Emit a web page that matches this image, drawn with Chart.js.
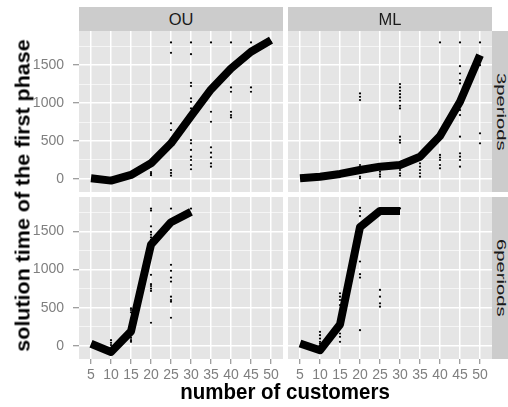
<!DOCTYPE html>
<html><head><meta charset="utf-8">
<script src="https://cdn.jsdelivr.net/npm/chart.js@4/dist/chart.umd.min.js"></script>
<style>
html,body{margin:0;padding:0;background:#fff;}
#wrap{position:relative;width:508px;height:407px;overflow:hidden;font-family:"Liberation Sans",Arial,sans-serif;}
canvas{position:absolute;left:0;top:0;}
.strip{position:absolute;background:#CCCCCC;color:#1A1A1A;display:flex;align-items:center;justify-content:center;font-size:16.5px;white-space:nowrap;overflow:hidden;}
.rs span{display:block;font-size:13.5px;line-height:13.5px;transform:rotate(90deg) scaleX(1.5);}
#xt{position:absolute;left:85px;width:400px;top:381px;height:20px;text-align:center;font-weight:bold;font-size:20.5px;line-height:20.5px;transform:scaleY(1.1);color:#000;white-space:nowrap;}
#yt{position:absolute;left:-177px;width:400px;top:186px;height:19px;text-align:center;font-weight:bold;font-size:19.5px;line-height:19.5px;transform:rotate(-90deg) scaleX(1.1);color:#000;white-space:nowrap;}
</style></head>
<body><div id="wrap">
<canvas id="c1" width="508" height="407"></canvas>
<canvas id="c2" width="508" height="407"></canvas>
<canvas id="c3" width="508" height="407"></canvas>
<canvas id="c4" width="508" height="407"></canvas>
<div class="strip" style="left:79px;top:7px;width:204px;height:24px;">OU</div>
<div class="strip" style="left:288px;top:7px;width:204px;height:24px;">ML</div>
<div class="strip rs" style="left:492px;top:31px;width:17px;height:161px;"><span>3periods</span></div>
<div class="strip rs" style="left:492px;top:197px;width:17px;height:162px;"><span>6periods</span></div>
<div id="xt">number of customers</div>
<div id="yt">solution time of the first phase</div>
</div>
<script>
// categories (number of customers)
const xCats = [5, 10, 15, 20, 25, 30, 35, 40, 45, 50];
const yMajor = [0, 500, 1000, 1500];
const yMinor = [250, 750, 1250, 1750];

// mean lines
const ou3Mean = [9, -22, 53, 206, 470, 829, 1180, 1456, 1676, 1830];
const ml3Mean = [9, 30, 66, 118, 162, 184, 293, 566, 1017, 1632];
const ou6Mean = [27, -80, 190, 1325, 1620, 1755, null, null, null, null];
const ml6Mean = [32, -57, 280, 1555, 1768, 1768, null, null, null, null];

// individual runs [customers, time]
const ou3Pts = [[20,50],[20,70],[20,90],[25,1800],[25,1662],[25,733],[25,645],[25,118],[25,80],[25,43],
  [30,1800],[30,1645],[30,1267],[30,1224],[30,1062],[30,1017],[30,930],[30,513],[30,470],[30,382],[30,293],[30,250],[30,184],[30,128],
  [35,1800],[35,886],[35,754],[35,417],[35,346],[35,285],[35,206],[35,162],
  [40,1800],[40,1206],[40,1149],[40,886],[40,842],[40,811],[45,1800],[45,1206],[45,1149],[50,1800]];
const ml3Pts = [[20,1127],[20,1083],[20,1039],[20,184],[20,30],[20,9],[25,96],[25,60],[25,30],
  [30,1250],[30,1206],[30,1162],[30,1118],[30,1075],[30,1031],[30,965],[30,930],[30,557],[30,513],[30,478],[30,118],[30,75],[30,43],
  [35,206],[35,162],[35,118],[35,75],[35,30],[40,1800],[40,316],[40,283],[40,250],[40,184],[40,140],
  [45,1800],[45,1487],[45,1390],[45,1303],[45,1259],[45,908],[45,842],[45,557],[45,338],[45,294],[45,250],[45,162],
  [50,1800],[50,1500],[50,601],[50,470]];
const ou6Pts = [[10,75],[10,40],[10,10],[15,492],[15,470],[15,439],[15,105],[15,75],[15,53],
  [20,1799],[20,1772],[20,1566],[20,1492],[20,1456],[20,1421],[20,1390],[20,930],[20,808],[20,783],[20,750],[20,720],[20,303],
  [25,1799],[25,1062],[25,983],[25,895],[25,842],[25,645],[25,601],[25,579],[25,368],[30,1799]];
const ml6Pts = [[10,184],[10,140],[10,96],[10,53],[10,30],[15,689],[15,645],[15,601],[15,535],[15,162],[15,118],[15,53],
  [20,1808],[20,1766],[20,1700],[20,1590],[20,1105],[20,939],[20,895],[20,206],[25,733],[25,645],[25,557],[25,513],[30,1800]];

const FONT = '"Liberation Sans", Arial, sans-serif';
const XH = 28;
const bgPlugin = {
  id: 'panelBg',
  beforeDraw(chart) {
    const a = chart.chartArea, ctx = chart.ctx;
    ctx.save();
    ctx.fillStyle = '#E5E5E5';
    ctx.fillRect(a.left, a.top, a.right - a.left, a.bottom - a.top);
    ctx.restore();
  }
};

function panel(id, mean, pts, cfg) {
  const {left, right, top, bottom, showX, showY} = cfg;
  new Chart(document.getElementById(id), {
    type: 'line',
    data: { datasets: [
      { data: xCats.map((x, i) => ({x: x, y: mean[i]})).filter(d => d.y !== null),
        borderColor: '#000', borderWidth: 8, pointRadius: 0, borderJoinStyle: 'round', borderCapStyle: 'butt',
        tension: 0, fill: false, clip: 0 },
      { data: pts.map(p => ({x: p[0], y: p[1]})), showLine: false, pointRadius: 1.1,
        pointBackgroundColor: '#000', pointBorderWidth: 0, clip: 0 }
    ]},
    options: {
      responsive: false, animation: false, events: [],
      plugins: { legend: {display: false}, tooltip: {enabled: false} },
      layout: { padding: { left: showY ? 0 : left, right: 508 - right, top: top,
                           bottom: showX ? 407 - bottom - XH : 407 - bottom } },
      scales: {
        x: { type: 'linear', min: 2, max: 53,
             afterBuildTicks: s => { s.ticks = xCats.map(v => ({value: v})); },
             afterFit: s => { s.height = showX ? XH : 0; },
             border: {display: false},
             grid: { color: '#FFFFFF', lineWidth: 1.5, drawTicks: showX, tickLength: 5, tickColor: '#7F7F7F', tickWidth: 1 },
             ticks: { display: showX, color: '#7F7F7F', font: {family: FONT, size: 14}, padding: 3,
                      maxRotation: 0, autoSkip: false } },
        y: { type: 'linear', min: -172, max: 1950,
             afterBuildTicks: s => { s.ticks = yMajor.concat(yMinor).sort((a, b) => a - b).map(v => ({value: v})); },
             afterFit: s => { s.width = showY ? left : 0; },
             border: {display: false},
             grid: { color: '#FFFFFF',
                     lineWidth: c => (c.tick && yMajor.includes(c.tick.value)) ? 1.5 : 0.6,
                     drawTicks: showY, tickLength: 6, tickWidth: 1,
                     tickColor: c => (c.tick && yMajor.includes(c.tick.value)) ? '#7F7F7F' : 'rgba(0,0,0,0)' },
             ticks: { display: showY, color: '#7F7F7F', font: {family: FONT, size: 14}, padding: 9,
                      autoSkip: false, callback: v => yMajor.includes(v) ? String(v) : '' } }
      }
    },
    plugins: [bgPlugin]
  });
}

panel('c1', ou3Mean, ou3Pts, {left: 79, right: 283, top: 31, bottom: 192, showX: false, showY: true});
panel('c2', ml3Mean, ml3Pts, {left: 288, right: 492, top: 31, bottom: 192, showX: false, showY: false});
panel('c3', ou6Mean, ou6Pts, {left: 79, right: 283, top: 197, bottom: 359, showX: true, showY: true});
panel('c4', ml6Mean, ml6Pts, {left: 288, right: 492, top: 197, bottom: 359, showX: true, showY: false});
</script>
</body></html>
